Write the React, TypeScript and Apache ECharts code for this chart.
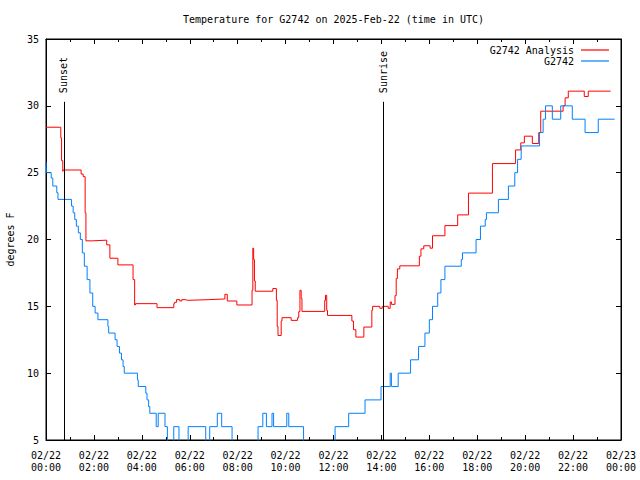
import React, { useEffect, useRef } from "react";
import * as echarts from "echarts";

// ---- Data (times in UTC on 2025-02-22, value in degrees F; each point = time the value changes) ----
const analysisTimes = [
  "00:00", "00:37", "00:39", "00:42", "00:43", "01:28", "01:33", "01:38", "01:40", "01:57",
  "02:32", "02:40", "03:00", "03:38", "03:42", "03:44", "04:38", "05:20", "05:22", "05:27",
  "05:35", "05:40", "05:48", "05:55", "06:48", "07:28", "07:34", "07:58", "08:36", "08:38",
  "08:40", "08:42", "08:44", "09:28", "09:37", "09:39", "09:41", "09:49", "09:51", "10:14",
  "10:30", "10:33", "10:36", "10:39", "10:41", "11:38", "11:40", "11:43", "11:45", "12:46",
  "12:50", "12:56", "13:16", "13:36", "13:38", "13:56", "14:02", "14:17", "14:22", "14:25",
  "14:34", "14:37", "14:40", "14:46", "15:35", "15:39", "15:46", "16:02", "16:08", "16:39",
  "17:11", "17:38", "18:38", "19:36", "19:49", "19:58", "20:18", "20:34", "20:39", "21:35",
  "21:40", "21:48", "22:28", "22:38", "23:34"
];
const analysisValues = [
  28.4, 27.6, 25.9, 25.1, 25.2, 24.9, 24.7, 22.0, 19.9, 19.95,
  19.6, 18.6, 18.1, 17.0, 15.1, 15.2, 14.9, 15.2, 15.3, 15.5,
  15.4, 15.5, 15.45, 15.5, 15.55, 15.9, 15.4, 15.1, 16.2, 19.35,
  18.5, 16.9, 16.13, 16.33, 15.45, 13.5, 12.82, 13.9, 14.15, 13.95,
  14.15, 14.6, 16.2, 15.6, 14.62, 15.45, 15.83, 14.7, 14.32, 13.9,
  13.25, 12.7, 13.45, 14.7, 15.0, 14.85, 15.0, 14.85, 15.33, 15.15,
  15.8, 17.08, 17.8, 18.03, 18.75, 19.3, 19.53, 19.35, 20.28, 21.04,
  21.84, 23.47, 25.68, 26.7, 27.23, 27.73, 27.18, 28.0, 29.6, 30.0,
  30.6, 31.1, 30.7, 31.1, 31.1
];

const obsTimes = [
  "00:00", "00:01", "00:13", "00:17", "00:27", "00:30", "01:04", "01:08", "01:12", "01:16",
  "01:21", "01:26", "01:31", "01:36", "01:43", "01:50", "01:57", "02:03", "02:10", "02:35",
  "02:37", "02:53", "02:58", "03:04", "03:09", "03:13", "03:16", "03:49", "03:51", "04:10",
  "04:13", "04:17", "04:20", "04:36", "04:41", "04:58", "05:04", "05:20", "05:33", "05:56",
  "06:40", "06:50", "07:09", "07:20", "07:46", "08:51", "09:03", "09:12", "09:26", "09:30",
  "10:03", "10:08", "10:45", "12:04", "12:38", "13:19", "13:59", "14:22", "14:25", "14:42",
  "15:13", "15:33", "15:49", "16:00", "16:08", "16:21", "16:29", "16:39", "17:20", "17:23",
  "17:57", "18:08", "18:20", "18:23", "18:53", "19:18", "19:34", "19:41", "19:50", "20:36",
  "20:45", "20:51", "21:08", "21:29", "21:58", "22:30", "23:03", "23:44"
];
const obsValues = [
  25.8, 25, 24.6, 24, 23.5, 23, 22.5, 22, 21.5, 21,
  20.5, 20, 19, 18, 17, 16, 15, 14.5, 14, 13.5,
  13, 12.5, 12, 11.5, 11, 10.5, 10, 9.5, 9, 8.5,
  8, 7.5, 7, 6, 7, 6, 4, 6, 4, 6,
  4, 6, 7, 6, 4, 6, 7, 6, 7, 6,
  7, 6, 4, 6, 7, 8, 9, 10, 9, 10,
  11, 12, 13, 14, 15, 16, 17, 18, 18.5, 19,
  20, 21, 21.5, 22, 23, 24, 25, 26, 27, 28,
  29, 30, 29, 30, 29, 28, 29, 29
];

const sunEventNames = ["Sunset", "Sunrise"];
const sunEventTimes = ["00:45", "14:05"];
const sunLineTop = 30.3;

const seriesNames = ["G2742 Analysis", "G2742"];
const seriesColors = ["#ff0000", "#0080ff"];
const yTicks = [5, 10, 15, 20, 25, 30, 35];
const titleText = "Temperature for G2742 on 2025-Feb-22 (time in UTC)";
const yAxisTitle = "degrees F";

const DAY0 = Date.UTC(2025, 1, 22);
const HOUR = 3600000;
function ts(hhmm: string): number {
  const [h, m] = hhmm.split(":").map(Number);
  return DAY0 + (h * 60 + m) * 60000;
}
function pad(n: number) {
  return n < 10 ? "0" + n : "" + n;
}
function fmtTime(v: number) {
  const d = new Date(v);
  return `${pad(d.getUTCMonth() + 1)}/${pad(d.getUTCDate())}\n${pad(d.getUTCHours())}:${pad(d.getUTCMinutes())}`;
}

const FONT = "DejaVu Sans Mono";

export default function App() {
  const ref = useRef<HTMLDivElement>(null);
  useEffect(() => {
    if (!ref.current) return;
    const chart = echarts.init(ref.current, undefined, { renderer: "svg" });
    const redData = analysisTimes.map((t, i) => [ts(t), analysisValues[i]]);
    const blueData = obsTimes.map((t, i) => [ts(t), obsValues[i]]);
    const xMin = DAY0;
    const xMax = DAY0 + 24 * HOUR;
    const textStyle = { fontFamily: FONT, fontSize: 10, color: "#000" };

    const baseX = {
      type: "value" as const,
      min: xMin,
      max: xMax,
      interval: 2 * HOUR,
      splitLine: { show: false },
      axisLine: { show: true, lineStyle: { color: "#000", width: 1 } },
      axisTick: { show: true, inside: true, length: 5, lineStyle: { color: "#000" } },
      minorTick: { show: true, splitNumber: 2, length: 3, lineStyle: { color: "#000" } },
    };
    const baseY = {
      type: "value" as const,
      min: yTicks[0],
      max: yTicks[yTicks.length - 1],
      interval: 5,
      splitLine: { show: false },
      axisLine: { show: true, lineStyle: { color: "#000", width: 1 } },
      axisTick: { show: true, inside: true, length: 5, lineStyle: { color: "#000" } },
    };

    chart.setOption({
      animation: false,
      backgroundColor: "#fff",
      title: {
        text: titleText,
        left: 178,
        top: 9,
        textStyle: { fontFamily: FONT, fontSize: 10, fontWeight: "normal", color: "#000" },
      },
      legend: {
        orient: "vertical",
        right: 31,
        top: 45,
        padding: 0,
        align: "right",
        icon: "rect",
        itemWidth: 28,
        itemHeight: 1.2,
        itemGap: 1,
        textStyle: { ...textStyle, padding: [0, 2, 0, 0] },
        data: seriesNames.map((n, i) => ({ name: n, itemStyle: { color: seriesColors[i] } })),
      },
      grid: {
        left: 46,
        right: 19,
        top: 39,
        bottom: 40,
        outerBoundsMode: "none",
        containLabel: false,
        show: true,
        borderColor: "#000",
        borderWidth: 1,
        backgroundColor: "transparent",
      },
      xAxis: [
        {
          ...baseX,
          position: "bottom",
          axisLabel: {
            ...textStyle,
            margin: 9,
            lineHeight: 12,
            showMinLabel: true,
            showMaxLabel: true,
            formatter: (v: number) => fmtTime(v),
          },
        },
        { ...baseX, position: "top", axisLabel: { show: false } },
      ],
      yAxis: [
        {
          ...baseY,
          position: "left",
          name: yAxisTitle,
          nameLocation: "middle",
          nameRotate: 90,
          nameGap: 31,
          nameTextStyle: textStyle,
          axisLabel: { ...textStyle, margin: 7 },
        },
        { ...baseY, position: "right", axisLabel: { show: false } },
      ],
      series: [
        {
          name: seriesNames[0],
          type: "line",
          step: "end",
          data: redData,
          symbol: "none",
          color: seriesColors[0],
          lineStyle: { color: seriesColors[0], width: 1 },
          clip: true,
          markLine: {
            silent: true,
            symbol: "none",
            label: { show: false },
            lineStyle: { color: "#000", width: 1, type: "solid" },
            data: sunEventTimes.map((t) => [
              { coord: [ts(t), yTicks[0]] },
              { coord: [ts(t), sunLineTop] },
            ]),
          },
          markPoint: {
            silent: true,
            symbol: "circle",
            symbolSize: 0,
            data: sunEventTimes.map((t, i) => ({
              coord: [ts(t), sunLineTop + 0.8],
              value: sunEventNames[i],
            })),
            label: {
              show: true,
              position: "inside",
              rotate: 90,
              align: "left",
              verticalAlign: "middle",
              offset: [-2, 0],
              fontFamily: FONT,
              fontSize: 10,
              color: "#000",
              formatter: (p: any) => p.value,
            },
          },
        },
        {
          name: seriesNames[1],
          type: "line",
          step: "end",
          data: blueData,
          symbol: "none",
          color: seriesColors[1],
          lineStyle: { color: seriesColors[1], width: 1 },
          clip: true,
        },
      ],
    });
    return () => chart.dispose();
  }, []);
  return (
    <div
      ref={ref}
      style={{ position: "absolute", left: 0, top: 0, width: 640, height: 480, background: "#fff" }}
    />
  );
}
